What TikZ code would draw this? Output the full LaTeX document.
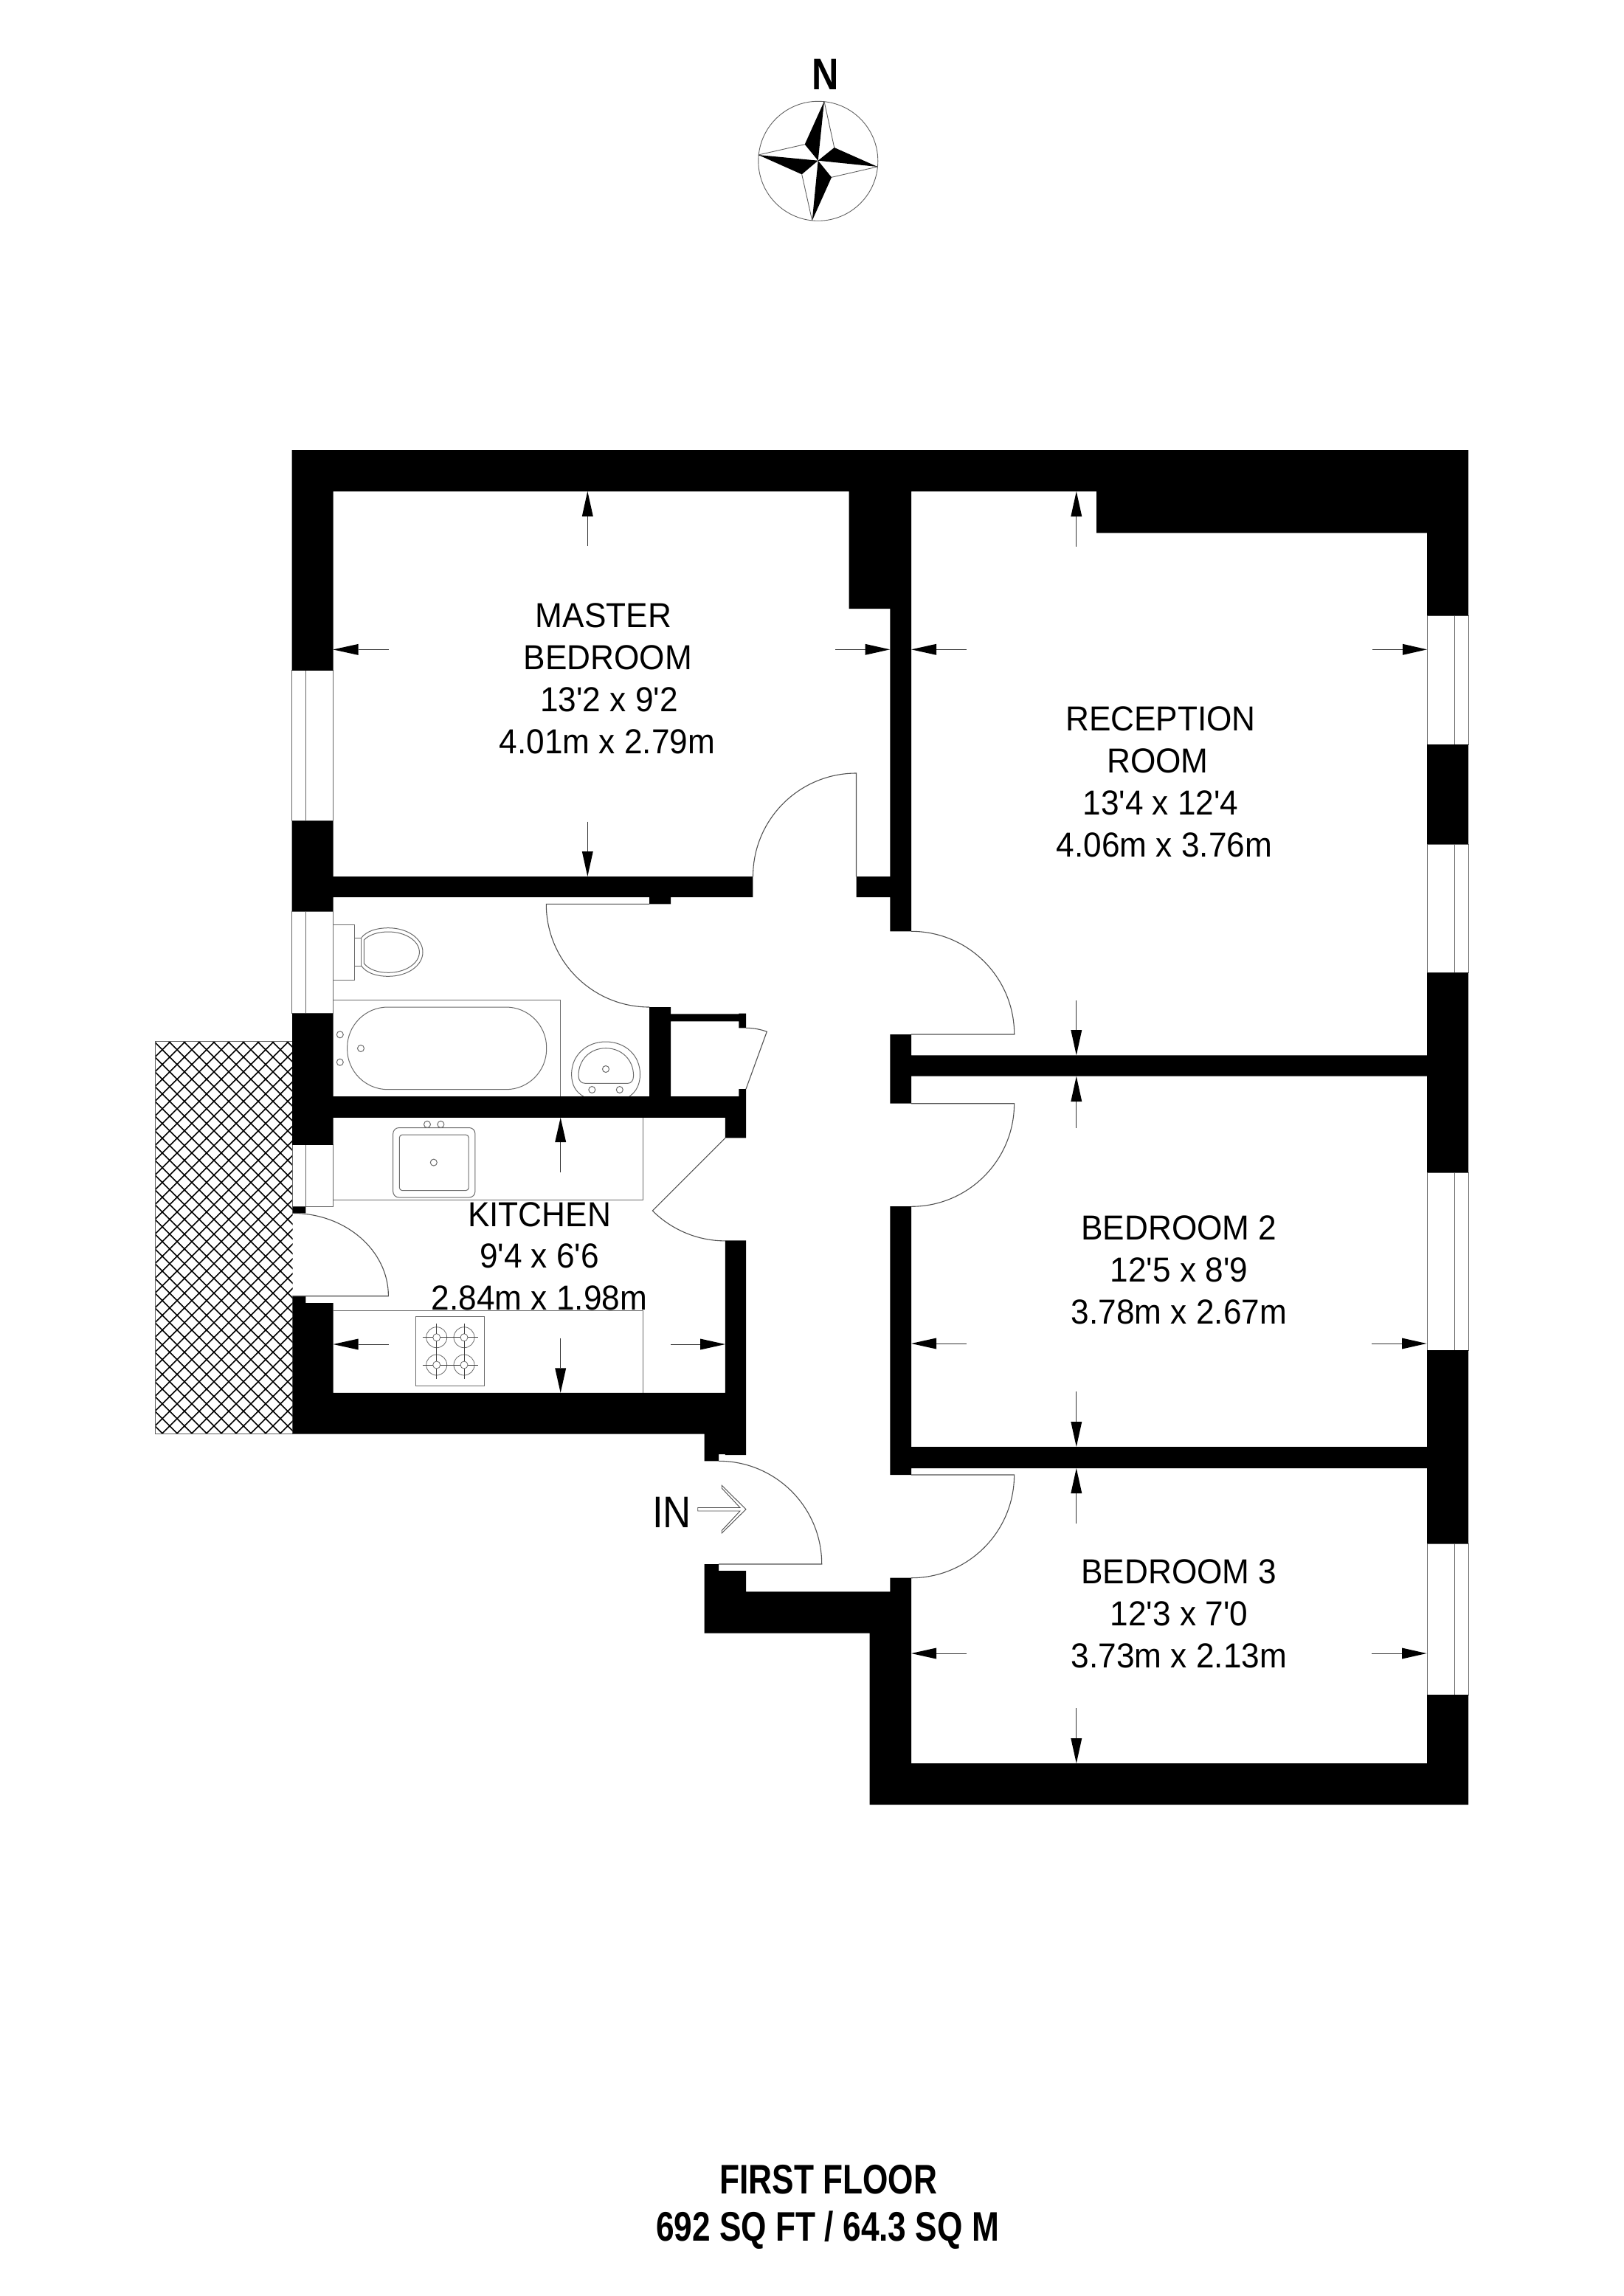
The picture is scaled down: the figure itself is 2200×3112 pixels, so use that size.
\documentclass[tikz,border=0pt]{standalone}
\usepackage{fontspec}
\newfontfamily\roomfont[FakeStretch=.94]{Liberation Sans}
\newfontfamily\infont[FakeStretch=.88]{Liberation Sans}
\newfontfamily\titlefont[FakeStretch=.79]{Liberation Sans Bold}
\newfontfamily\northfont[FakeStretch=.84]{Liberation Sans Bold}
\tikzset{
  wall/.style={fill=black,draw=none},
  hair/.style={draw=black!62,line width=1pt,fill=none},
  fixture/.style={draw=black!58,line width=1pt},
  leaf/.style={draw=black!68,line width=1.1pt},
  glazing/.style={fill=white,draw=black!60,line width=1pt},
  dimline/.style={draw=black!80,line width=.9pt},
  dimhead/.style={fill=black,draw=none},
  roomtext/.style={anchor=base,inner sep=0pt,outer sep=0pt,font=\fontsize{47}{57}\selectfont\roomfont},
  titletext/.style={anchor=base,inner sep=0pt,outer sep=0pt,font=\fontsize{56}{64}\selectfont\titlefont},
  hatchline/.style={draw=black,line width=1.7pt},
}
\newcommand\arrV[4]{% x, tail, base, tip
  \draw[dimline] (#1,#2) -- (#1,#3);
  \fill[dimhead] (#1-7.5,#3) -- (#1+7.5,#3) -- (#1,#4) -- cycle;}
\newcommand\arrH[4]{% y, tail, base, tip
  \draw[dimline] (#2,#1) -- (#3,#1);
  \fill[dimhead] (#3,#1-7.5) -- (#3,#1+7.5) -- (#4,#1) -- cycle;}
\newcommand\burner[2]{%
  \draw[fixture,line width=.8pt] (#1,#2) circle[radius=14pt] (#1,#2) circle[radius=5pt];
  \draw[fixture,draw=black!75,line width=.9pt]
    (#1-19,#2) -- (#1-5,#2) (#1+5,#2) -- (#1+19,#2)
    (#1,#2-19) -- (#1,#2-5) (#1,#2+5) -- (#1,#2+19);}
\begin{document}
\begin{tikzpicture}[x=1pt,y=-1pt]
\useasboundingbox (0,0) rectangle (2200,3112);
\fill[white] (0,0) rectangle (2200,3112);

% --- balcony hatch
\begin{scope}
  \clip (210.5,1411) rectangle (396.5,1943.7);
  \foreach \k in {-1,...,37}{
    \pgfmathsetmacro\s{1622.7+20*\k}
    \draw[hatchline] (190,\s-190) -- (410,\s-410);
  }
  \foreach \k in {-28,...,11}{
    \pgfmathsetmacro\d{-1202.7+20*\k}
    \draw[hatchline] (190,190-\d) -- (410,410-\d);
  }
\end{scope}
\draw[hair] (396.5,1411) -- (210.5,1411) -- (210.5,1943.7) -- (396.5,1943.7);

% --- windows
\draw[glazing] (395.5,908.9) rectangle (451.5,1112.8) (414.6,908.9) -- (414.6,1112.8);
\draw[glazing] (395.5,1235) rectangle (451.5,1373.7) (414.4,1235) -- (414.4,1373.7);
\draw[glazing] (396.4,1551.8) rectangle (451.5,1635.6) (414.3,1551.8) -- (414.3,1635.6);
\foreach \a/\b in {834/1009,1144/1318,1589/1830,2092/2297}{
  \draw[glazing] (1934,\a) rectangle (1990,\b) (1971.4,\a) -- (1971.4,\b);
}

% --- fixtures: WC
\draw[fixture] (451.5,1253.3) rectangle (480,1328.3);
\draw[fixture] (480,1271) rectangle (489.8,1309.3);
\draw[fixture] (489.8,1271) .. controls (497,1262) and (510,1257.7) .. (526.5,1257.7)
  .. controls (552,1257.7) and (573,1272) .. (573,1290.5)
  .. controls (573,1309) and (552,1323.3) .. (526.5,1323.3)
  .. controls (510,1323.3) and (497,1319) .. (489.8,1309.3);
\draw[fixture] (493.4,1274) .. controls (500,1267) and (512,1263) .. (526.5,1263)
  .. controls (549,1263) and (568.4,1275) .. (568.4,1290.5)
  .. controls (568.4,1306) and (549,1318.3) .. (526.5,1318.3)
  .. controls (512,1318.3) and (500,1314) .. (493.4,1306) -- cycle;
% bath
\draw[fixture] (451.5,1355.3) -- (759.5,1355.3) -- (759.5,1486);
\draw[fixture,rounded corners=55pt] (470.6,1365) rectangle (740.7,1476.7);
\foreach \p in {(460.8,1402.3),(460.8,1439.7),(489,1421)}{\draw[fixture] \p circle[radius=4.5pt];}
% basin
\draw[fixture] (790.7,1486) .. controls (780,1480) and (774.6,1470) .. (774.6,1456)
  .. controls (774.6,1430) and (795,1412) .. (821,1412)
  .. controls (847,1412) and (867.5,1430) .. (867.5,1456)
  .. controls (867.5,1470) and (862,1480) .. (853,1486);
\draw[fixture] (793,1468.3) -- (851,1468.3) .. controls (855,1468.3) and (858.6,1465) .. (858.6,1458)
  .. controls (858.6,1436) and (842,1420.7) .. (821,1420.7)
  .. controls (800,1420.7) and (784,1436) .. (784,1458)
  .. controls (784,1465) and (788,1468.3) .. (793,1468.3) -- cycle;
\foreach \p in {(821,1449),(802.3,1477),(839.8,1477)}{\draw[fixture] \p circle[radius=4.5pt];}
% kitchen worktops
\draw[fixture] (451.5,1626) -- (871,1626) -- (871,1514.8);
\draw[fixture] (451.5,1776) -- (871,1776) -- (871,1887.8);
% sink
\draw[fixture,rounded corners=8pt] (532.7,1528.5) rectangle (643.9,1623);
\draw[fixture,rounded corners=4pt] (541.3,1538) rectangle (635.2,1613.7);
\foreach \p in {(579,1524),(597.4,1524),(587.8,1575.6)}{\draw[fixture,fill=white] \p circle[radius=4.5pt];}
% hob
\draw[fixture,line width=1.2pt] (563.7,1784.3) rectangle (656.7,1878.3);
\burner{591.7}{1812.7}\burner{629}{1812.7}\burner{591.7}{1850}\burner{629}{1850}

% --- walls
\fill[wall]
  (395.5,610) rectangle (1990,666)
  (1150.5,665) rectangle (1235,825)
  (1206.4,824) rectangle (1235,1262.3)
  (1486,665) rectangle (1990,722.3)
  (1934,721) rectangle (1990,834.3)
  (1934,1009) rectangle (1990,1144)
  (1934,1318.4) rectangle (1990,1589.2)
  (1934,1830.2) rectangle (1990,2092)
  (1934,2297) rectangle (1990,2446)
  (395.5,665) rectangle (451.5,908.9)
  (395.5,1112.8) rectangle (451.5,1235)
  (396,1373.7) rectangle (451.5,1551.8)
  (396.4,1635.6) rectangle (414.3,1644.4)
  (396.4,1756.7) rectangle (414.3,1767)
  (396.4,1766) rectangle (451.5,1943.7)
  (450.5,1188) rectangle (1020.4,1216)
  (1160.5,1188) rectangle (1207,1216)
  (880,1215) rectangle (909,1225.3)
  (880,1365) rectangle (909,1487)
  (450.5,1486) rectangle (1011,1514.8)
  (908,1374.3) rectangle (1002,1384.3)
  (1001.4,1373.7) rectangle (1011,1393.3)
  (1001.4,1476) rectangle (1011,1487)
  (982.9,1514) rectangle (1011,1542.3)
  (982.9,1681.3) rectangle (1011,1972)
  (450.5,1887.8) rectangle (1011,1943.5)
  (954.6,1943) rectangle (1011,1971)
  (954.6,1970) rectangle (974,1980.3)
  (954.6,2120) rectangle (974,2130)
  (954.6,2129) rectangle (1011,2158)
  (954.6,2157.3) rectangle (1235,2213.7)
  (1206.4,2138.7) rectangle (1235,2158)
  (1178.6,2213) rectangle (1235,2446)
  (1178.6,2390) rectangle (1990,2446)
  (1206.4,1402) rectangle (1235,1495.7)
  (1234,1430.3) rectangle (1935,1458.7)
  (1206.4,1635) rectangle (1235,1999)
  (1234,1961) rectangle (1935,1990);

% --- doors
\draw[leaf] (1160.5,1188) -- (1160.5,1048) arc[start angle=90,end angle=180,radius=140pt];
\draw[leaf] (880,1225.3) -- (740.3,1225.3) arc[start angle=180,end angle=270,radius=139.7pt];
\draw[leaf] (1235,1262.3) arc[start angle=90,end angle=0,radius=139.7pt] -- (1235,1402);
\draw[leaf] (1235,1495.7) -- (1374.6,1495.7) arc[start angle=0,end angle=-90,radius=139.6pt];
\draw[leaf] (1235,1999) -- (1374.6,1999) arc[start angle=0,end angle=-90,radius=139.7pt];
\draw[leaf] (974,1980.3) arc[start angle=90,end angle=0,radius=139.7pt] -- (974,2120);
\draw[leaf] (396.4,1644.4) arc[start angle=90,end angle=0,x radius=130pt,y radius=112.3pt] -- (396.4,1756.7);
\draw[leaf] (983,1542.3) -- (884.3,1641) arc[start angle=225,end angle=270,radius=139.6pt];
\draw[leaf] (1011,1476) -- (1039.3,1398.3) arc[start angle=70,end angle=90,radius=82.7pt];

% --- dimension arrows
\arrV{796.3}{740}{699.8}{665.8}
\arrV{796.3}{1113.6}{1154}{1188}
\arrH{880.4}{527}{485.6}{451.4}
\arrH{880.3}{1132}{1172.5}{1206.2}
\arrH{880.3}{1309.5}{1269}{1235}
\arrH{880.3}{1860}{1901}{1934}
\arrV{1458.8}{740.7}{700}{666}
\arrV{1458.8}{1356}{1396}{1430.3}
\arrV{1458.8}{1529}{1493}{1458.7}
\arrH{1821}{1309.5}{1269}{1235}
\arrH{1821}{1859}{1900}{1933.5}
\arrV{1458.8}{1886}{1927}{1961}
\arrV{1458.8}{2065}{2024}{1990}
\arrH{2241}{1309.5}{1269}{1235}
\arrH{2241}{1859}{1900}{1933.5}
\arrV{1458.8}{2315}{2356}{2390}
\arrV{759.7}{1589}{1548}{1514.8}
\arrV{759.7}{1813.7}{1854.4}{1887.8}
\arrH{1822}{526.5}{485.7}{451.5}
\arrH{1822}{909}{949}{983}

% --- IN arrow
\draw[fixture,line width=.9pt,draw=black!70] (945.7,2043.5) -- (1003,2043.5) -- (978.2,2017) -- (978.2,2013.3) -- (1011,2045.7)
  -- (978.2,2078) -- (978.2,2074.5) -- (1003,2048) -- (945.7,2048) -- cycle;
\node[anchor=base,inner sep=0pt,font=\fontsize{60}{60}\selectfont\infont] (intext) at (910.5,2070) {IN};

% --- compass
\draw[hair,line width=.9pt] (1108.8,218.3) circle[radius=81pt];
\draw[hair,line width=.9pt] (1117,137.3) -- (1130.7,200) (1189.3,226) -- (1127,240.3)
  (1100.7,299) -- (1086.7,236.3) (1027.7,210) -- (1090.7,195.7);
\fill[black] (1117,137.3) -- (1090.7,195.7) -- (1108.7,217.7) -- cycle;
\fill[black] (1189.3,226) -- (1130.7,200) -- (1108.7,217.7) -- cycle;
\fill[black] (1100.7,299) -- (1127,240.3) -- (1108.7,217.7) -- cycle;
\fill[black] (1027.7,210) -- (1086.7,236.3) -- (1108.7,217.7) -- cycle;
\node[anchor=base,inner sep=0pt,font=\fontsize{60}{60}\selectfont\northfont] (north) at (1118.7,121.7) {N};

% --- room labels
\node[roomtext] (mb1) at (818,850) {MASTER};
\node[roomtext] (mb2) at (824,907) {BEDROOM};
\node[roomtext] (mb3) at (825.5,964) {13'2 x 9'2};
\node[roomtext] (mb4) at (823,1021.7) {4.01m x 2.79m};
\node[roomtext] (rr1) at (1573,990) {RECEPTION};
\node[roomtext] (rr2) at (1569,1047) {ROOM};
\node[roomtext] (rr3) at (1573,1104) {13'4 x 12'4};
\node[roomtext] (rr4) at (1578,1161) {4.06m x 3.76m};
\node[roomtext] (b21) at (1598,1680) {BEDROOM 2};
\node[roomtext] (b22) at (1598,1737) {12'5 x 8'9};
\node[roomtext] (b23) at (1598,1794) {3.78m x 2.67m};
\node[roomtext] (b31) at (1598,2146) {BEDROOM 3};
\node[roomtext] (b32) at (1598,2203) {12'3 x 7'0};
\node[roomtext] (b33) at (1598,2260) {3.73m x 2.13m};
\node[roomtext] (k1) at (731,1662) {KITCHEN};
\node[roomtext] (k2) at (731,1718) {9'4 x 6'6};
\node[roomtext] (k3) at (731,1775) {2.84m x 1.98m};

% --- title
\node[titletext] (t1) at (1122.8,2973.3) {FIRST FLOOR};
\node[titletext] (t2) at (1121.6,3037.3) {692 SQ FT / 64.3 SQ M};
\end{tikzpicture}
\end{document}
